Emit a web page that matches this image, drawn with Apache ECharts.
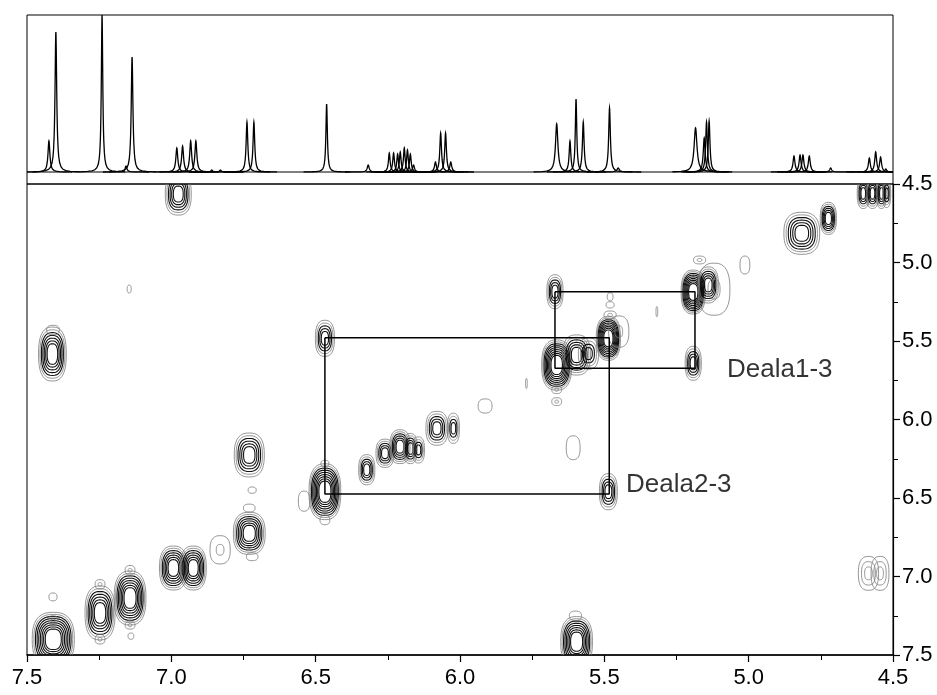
<!DOCTYPE html>
<html><head><meta charset="utf-8">
<script src="https://cdn.jsdelivr.net/npm/echarts@6/dist/echarts.min.js"></script>
<style>html,body{margin:0;padding:0;background:#fff}#c{width:937px;height:695px}</style>
</head><body><div id="c"></div>
<script>
// 1D projection peaks: [ppm, height, half-width (ppm)]
var peaks1D = [
  [7.424,31,0.004],[7.400,140,0.0035],[7.240,157,0.003],[7.157,6,0.004],[7.136,115,0.0035],
  [6.981,24,0.004],[6.961,26,0.004],[6.933,31,0.004],[6.915,31,0.004],[6.860,2,0.004],[6.830,2,0.004],
  [6.738,50,0.0035],[6.714,50,0.0035],[6.462,68,0.003],[6.318,7,0.004],
  [6.245,19,0.0035],[6.230,19,0.0035],[6.216,18,0.0035],[6.207,20,0.0035],[6.193,24,0.0035],
  [6.182,22,0.0035],[6.172,18,0.0035],[6.161,7,0.004],
  [6.085,10,0.004],[6.067,39,0.0035],[6.050,39,0.0035],[6.032,10,0.004],
  [5.665,48,0.005],[5.619,31,0.0035],[5.598,73,0.003],[5.573,50,0.0035],[5.482,64,0.0035],
  [5.452,4,0.005],[5.184,44,0.006],[5.154,34,0.004],[5.146,50,0.0035],[5.137,51,0.0035],
  [4.843,16,0.004],[4.822,17,0.004],[4.812,17,0.004],[4.790,16,0.004],[4.716,4,0.004],
  [4.582,14,0.004],[4.560,20,0.004],[4.543,15,0.004],[4.525,3,0.004]
];
// 2D contour peaks: [x ppm, y ppm, x half-size ppm, y half-size ppm, contour levels]
var peaks2D = [
  [6.976,4.564,0.045,0.134,6],
  [7.146,5.169,0.007,0.025,1],
  [7.412,5.583,0.048,0.172,7],[7.410,5.43,0.022,0.03,1],
  [6.468,5.483,0.033,0.115,5],
  [7.409,7.400,0.073,0.172,9],[7.410,7.28,0.017,0.03,2],[7.410,7.13,0.014,0.025,1],
  [7.247,7.232,0.052,0.172,7],[7.247,7.05,0.017,0.03,2],[7.247,7.40,0.017,0.03,2],
  [7.143,7.137,0.055,0.172,8],[7.143,6.96,0.017,0.03,2],[7.143,7.31,0.017,0.025,2],[7.140,7.38,0.01,0.02,1],
  [6.993,6.946,0.048,0.14,7],[6.924,6.946,0.045,0.14,7],
  [6.831,6.83,0.035,0.09,2],
  [6.730,6.725,0.055,0.134,7],[6.730,6.564,0.02,0.025,1],[6.720,6.874,0.02,0.025,1],
  [6.730,6.226,0.052,0.14,6],[6.720,6.45,0.014,0.02,1],
  [6.468,6.460,0.055,0.178,9],[6.468,6.28,0.014,0.02,1],[6.468,6.64,0.017,0.03,1],[6.540,6.52,0.02,0.064,1],
  [5.665,5.653,0.052,0.16,9],[5.665,5.81,0.017,0.025,2],[5.665,5.886,0.017,0.025,2],
  [5.596,5.589,0.048,0.128,6],[5.555,5.58,0.035,0.1,4],
  [5.486,5.483,0.042,0.14,9],[5.450,5.44,0.035,0.1,2],
  [5.913,5.914,0.024,0.045,1],
  [5.770,5.770,0.003,0.032,1],
  [5.608,6.180,0.024,0.076,1],
  [5.486,6.460,0.031,0.115,5],
  [6.323,6.320,0.028,0.096,5],
  [6.260,6.215,0.031,0.09,5],
  [6.208,6.173,0.035,0.108,6],
  [6.172,6.185,0.024,0.096,5],
  [6.144,6.194,0.021,0.083,4],
  [6.080,6.056,0.038,0.108,5],
  [6.023,6.056,0.021,0.096,4],
  [4.603,4.560,0.021,0.096,5],[4.571,4.560,0.021,0.096,5],[4.540,4.560,0.017,0.096,5],[4.522,4.560,0.014,0.09,4],
  [4.724,4.719,0.028,0.102,6],
  [4.816,4.814,0.062,0.134,6],
  [5.013,5.016,0.017,0.057,1],
  [5.192,5.188,0.042,0.14,9],[5.140,5.143,0.035,0.115,6],[5.120,5.17,0.055,0.166,2],[5.170,4.984,0.021,0.025,2],
  [5.671,5.186,0.028,0.108,5],
  [5.192,5.642,0.028,0.108,5],
  [5.480,5.218,0.01,0.025,1],[5.480,5.270,0.014,0.02,1],[5.480,5.334,0.021,0.025,2],
  [5.318,5.313,0.003,0.032,1],
  [4.585,6.980,0.035,0.108,3],[4.545,6.980,0.031,0.108,3],
  [5.596,7.415,0.055,0.16,8],[5.600,7.25,0.021,0.03,1]
];
// Boxes connecting cross peaks: [x1, x2, y1, y2]
var boxes = [
  [6.468,5.483,5.480,6.475],
  [5.671,5.186,5.186,5.674]
];
var labelNames = ['Deala1-3','Deala2-3'];
var labelPos = [[5.075,5.685],[5.425,6.417]];

function renderPeak1D(params, api){
  var x0 = api.value(0), h = api.value(1), w = api.value(2);
  var offs = [];
  var steps = [-0.08,-0.05,-0.035,-0.025,-0.018,-0.013,-0.01,-0.008,-0.006,-0.005,-0.004,-0.003,-0.002,-0.0012,-0.0005,0];
  for (var i=0;i<steps.length;i++) offs.push(steps[i]);
  for (var j=steps.length-2;j>=0;j--) offs.push(-steps[j]);
  var pts = [];
  for (var k=0;k<offs.length;k++){
    var d = offs[k];
    var y = h/(1+(d/w)*(d/w));
    pts.push(api.coord([x0+d, y]));
  }
  return {type:'polyline', shape:{points:pts}, style:{fill:'none', stroke:'#000', lineWidth:1.3}};
}
function renderContour(params, api){
  var cx=api.value(0), cy=api.value(1), rx=api.value(2), ry=api.value(3), n=api.value(4);
  var c = api.coord([cx,cy]);
  var s = api.size([rx, ry], [cx, cy]);
  var children=[];
  for (var i=0;i<n;i++){
    var f = n>1 ? 1 - 0.62*i/(n-1) : 1;
    var a = s[0]*f, b = s[1]*f;
    var pts=[];
    for (var k=0;k<48;k++){
      var t=k/48*2*Math.PI, ct=Math.cos(t), st=Math.sin(t);
      pts.push([c[0]+a*Math.sign(ct)*Math.pow(Math.abs(ct),0.78), c[1]+b*Math.sign(st)*Math.pow(Math.abs(st),0.78)]);
    }
    var gray = (n<=3) || i<2;
    children.push({type:'polygon', shape:{points:pts}, style:{fill:'none', stroke: gray?'#7a7a7a':'#111', lineWidth: gray?0.8:1.1}});
  }
  return {type:'group', children:children};
}

var boxData = [];
boxes.forEach(function(b, i){
  if (i>0) boxData.push([null,null]);
  boxData.push([b[0],b[2]],[b[1],b[2]],[b[1],b[3]],[b[0],b[3]],[b[0],b[2]]);
});
var labelData = labelPos.map(function(p,i){ return {value:p, name:labelNames[i]}; });

var font = 'Liberation Sans, Arial, sans-serif';
var chart = echarts.init(document.getElementById('c'), null, {renderer:'canvas'});
chart.setOption({
  animation:false,
  backgroundColor:'#fff',
  grid:[
    {left:27, right:44, top:15, height:169, show:true, borderColor:'#000', borderWidth:1, backgroundColor:'transparent'},
    {left:27, right:44, top:184, bottom:40, show:true, borderColor:'#000', borderWidth:1, backgroundColor:'transparent'}
  ],
  xAxis:[
    {gridIndex:0, type:'value', min:4.5, max:7.5, inverse:true, show:false},
    {gridIndex:1, type:'value', min:4.5, max:7.5, interval:0.5, inverse:true,
      axisLine:{show:true, lineStyle:{color:'#000', width:1.5}},
      axisTick:{show:true, length:7, lineStyle:{color:'#000', width:1.2}},
      minorTick:{show:true, splitNumber:2, length:5, lineStyle:{color:'#000', width:1}},
      splitLine:{show:false},
      axisLabel:{margin:12, fontSize:22, color:'#000', fontFamily:font, formatter:function(v){return v.toFixed(1);}}
    }
  ],
  yAxis:[
    {gridIndex:0, type:'value', min:-12, max:157, show:false},
    {gridIndex:1, type:'value', position:'right', min:4.5, max:7.5, interval:0.5, inverse:true,
      axisLine:{show:true, lineStyle:{color:'#000', width:1.2}},
      axisTick:{show:true, length:7, lineStyle:{color:'#000', width:1.2}},
      minorTick:{show:true, splitNumber:2, length:5, lineStyle:{color:'#000', width:1}},
      splitLine:{show:false},
      axisLabel:{margin:9, fontSize:22, color:'#000', fontFamily:font, formatter:function(v){return v.toFixed(1);}}
    }
  ],
  series:[
    {type:'line', xAxisIndex:0, yAxisIndex:0, data:[[7.5,0],[4.5,0]], symbol:'none', lineStyle:{color:'#000', width:1.2}},
    {type:'custom', xAxisIndex:0, yAxisIndex:0, data:peaks1D, renderItem:renderPeak1D, clip:true, encode:{x:0,y:1}},
    {type:'custom', xAxisIndex:1, yAxisIndex:1, data:peaks2D, renderItem:renderContour, clip:true, encode:{x:0,y:1}},
    {type:'line', xAxisIndex:1, yAxisIndex:1, data:boxData, symbol:'none', connectNulls:false, lineStyle:{color:'#000', width:1.5}, z:5},
    {type:'scatter', xAxisIndex:1, yAxisIndex:1, data:labelData, symbolSize:0, z:6,
      label:{show:true, position:'right', distance:0, formatter:'{b}', fontSize:26, color:'#000', fontFamily:font}}
  ]
});
</script></body></html>
